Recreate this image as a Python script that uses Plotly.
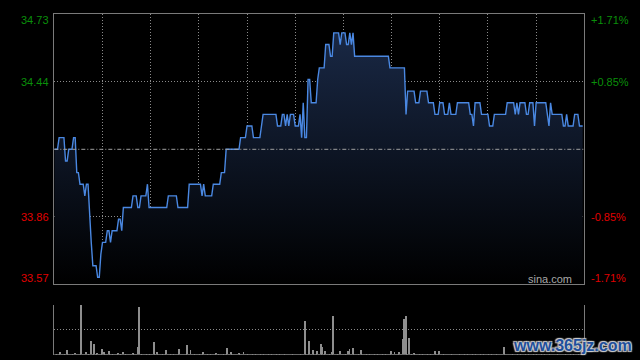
import numpy as np
import plotly.graph_objects as go

# ---------------- data ----------------
prev_close = 34.15
y_min, y_max = 33.57, 34.73
n_minutes = 330  # HK session 9:30-12:00, 13:00-16:00

# per-minute price, run-length encoded (price, number of minutes)
run_prices = [
    34.15, 34.20, 34.10, 34.15, 34.20, 34.05, 34.00, 33.95, 34.00, 33.85,
    33.75, 33.65, 33.60, 33.70, 33.75, 33.80, 33.75, 33.80, 33.85, 33.80,
    33.90, 33.95, 33.90, 33.95, 34.00, 33.90, 33.95, 33.90, 34.00, 33.95,
    34.00, 33.95, 34.00, 34.05, 34.15, 34.20, 34.25, 34.20, 34.25, 34.30,
    34.25, 34.30, 34.25, 34.30, 34.25, 34.30, 34.25, 34.30, 34.20, 34.35,
    34.20, 34.45, 34.35, 34.45, 34.50, 34.60, 34.55, 34.65, 34.60, 34.65,
    34.60, 34.65, 34.60, 34.65, 34.55, 34.50, 34.30, 34.40, 34.35, 34.40,
    34.35, 34.30, 34.35, 34.30, 34.35, 34.30, 34.35, 34.30, 34.25, 34.35,
    34.30, 34.25, 34.30, 34.35, 34.30, 34.35, 34.30, 34.35, 34.30, 34.35,
    34.25, 34.35, 34.30, 34.25, 34.35, 34.30, 34.25, 34.30, 34.25, 34.30,
    34.25,
]
run_lengths = [
    3, 4, 2, 3, 2, 2, 3, 1, 2, 1,
    1, 3, 2, 1, 3, 2, 1, 4, 2, 1,
    6, 3, 2, 4, 1, 12, 6, 7, 8, 1,
    1, 5, 5, 3, 9, 4, 4, 5, 1, 9,
    3, 2, 1, 1, 1, 3, 3, 1, 1, 1,
    2, 2, 4, 1, 4, 3, 2, 4, 1, 3,
    2, 1, 1, 1, 22, 10, 1, 5, 3, 5,
    4, 3, 3, 3, 1, 4, 8, 2, 1, 4,
    5, 3, 8, 5, 1, 1, 1, 4, 2, 3,
    1, 7, 1, 1, 1, 7, 2, 1, 4, 3,
    3,
]

# volume (arbitrary units, 50 = tallest bar); unlisted minutes are tiny
vol_minutes = [4, 8, 13, 17, 20, 23, 25, 27, 30, 31, 34, 40, 43, 49, 52, 53,
               62, 64, 70, 78, 83, 85, 93, 101, 108, 110, 115, 118, 156, 159,
               161, 164, 166, 167, 169, 173, 174, 178, 183, 184, 186, 191, 210,
               212, 215, 217, 218, 219, 221, 224, 237, 240, 280]
vol_values = [3, 5, 2, 50, 3, 14, 11, 2, 6, 3, 4, 2, 3, 2, 8, 48,
              13, 3, 5, 6, 10, 5, 3, 2, 7, 3, 2, 3, 34, 14,
              5, 4, 11, 8, 4, 3, 39, 4, 4, 6, 7, 5, 4,
              3, 3, 16, 36, 39, 17, 2, 4, 4, 8]
vol_small = 0.8
vol_max = 50

tick_prices = [34.73, 34.44, 33.86, 33.57]
tick_pcts = ["+1.71%", "+0.85%", "-0.85%", "-1.71%"]
grid_prices = [34.44, 33.86]
grid_minutes = [30, 60, 90, 120, 150, 180, 210, 240, 270, 300]

# ---------------- build ----------------
price = np.repeat(run_prices, run_lengths)
minutes = np.arange(len(price))

vol = np.full(n_minutes, vol_small)
vol[vol_minutes] = vol_values
vol_x = np.arange(n_minutes)

GREEN = "#0a8f0a"
RED = "#e00000"
FRAME = "#7a7a7a"
GRID = "#8a8a8a"
FONT = "Arial, Liberation Sans, sans-serif"

xd = [54.3 / 640, 584.3 / 640]
main_dom = [(360 - 284.3) / 360, (360 - 14.3) / 360]
vol_dom = [(360 - 354.7) / 360, (360 - 304.7) / 360]

fig = go.Figure()
fig.add_trace(go.Scatter(
    x=minutes, y=price, mode="lines",
    line=dict(color="#4a88e2", width=1.4),
    fill="tozeroy",
    fillgradient=dict(type="vertical",
                      colorscale=[[0, "#000000"], [1, "#1b2b4a"]],
                      start=y_min, stop=y_max),
    xaxis="x", yaxis="y", hoverinfo="skip",
))
fig.add_trace(go.Bar(
    x=vol_x, y=vol, width=0.6,
    marker=dict(color="#8e8e8e", line=dict(width=0)),
    xaxis="x2", yaxis="y2", hoverinfo="skip",
))

fig.add_hline(y=prev_close, line=dict(color="#a0a0a0", width=1, dash="4px,2px,1px,2px"),
              xref="x", yref="y", layer="above")

annotations = []
for i, (p, pc) in enumerate(zip(tick_prices, tick_pcts)):
    col = GREEN if p > prev_close else RED
    ys = -6 if i == 0 else (6 if i == len(tick_prices) - 1 else 0)
    annotations.append(dict(x=xd[0], xref="paper", y=p, yref="y", text=f"{p:.2f}",
                            xanchor="right", yanchor="middle", xshift=-3, yshift=ys,
                            showarrow=False, font=dict(family=FONT, size=11, color=col)))
    annotations.append(dict(x=xd[1], xref="paper", y=p, yref="y", text=pc,
                            xanchor="left", yanchor="middle", xshift=5, yshift=ys,
                            showarrow=False, font=dict(family=FONT, size=11, color=col)))
annotations.append(dict(x=xd[1], xref="paper", y=(360 - 279) / 360, yref="paper",
                        text="sina.com", xanchor="right", yanchor="middle", xshift=-10,
                        showarrow=False, font=dict(family=FONT, size=11, color="#a8a8a8")))
annotations.append(dict(x=1.0, xref="paper", y=(360 - 345) / 360, yref="paper",
                        text="www.365jz.com", xanchor="right", yanchor="middle", xshift=-6,
                        showarrow=False,
                        font=dict(family=FONT, size=16, color="#1e4f9c", weight="bold",
                                  shadow="1px 1px 1px #cfcfcf, -1px -1px 1px #cfcfcf, 1px -1px 1px #cfcfcf, -1px 1px 1px #cfcfcf")))

fig.update_layout(
    width=640, height=360,
    margin=dict(l=0, r=0, t=0, b=0),
    paper_bgcolor="#000000", plot_bgcolor="#000000",
    showlegend=False,
    bargap=0,
    xaxis=dict(domain=xd, range=[0, n_minutes], anchor="y",
               tickvals=grid_minutes, showticklabels=False, ticks="",
               showgrid=True, gridcolor=GRID, gridwidth=1, griddash="1px,2px",
               showline=True, mirror=True, linecolor=FRAME, linewidth=1, zeroline=False),
    yaxis=dict(domain=main_dom, range=[y_min, y_max], anchor="x",
               tickvals=grid_prices, showticklabels=False, ticks="",
               showgrid=True, gridcolor=GRID, gridwidth=1, griddash="1px,2px",
               showline=True, mirror=True, linecolor=FRAME, linewidth=1, zeroline=False),
    xaxis2=dict(domain=xd, range=[0, n_minutes], anchor="y2",
                showticklabels=False, ticks="", showgrid=False,
                showline=False, zeroline=False),
    yaxis2=dict(domain=vol_dom, range=[0, vol_max], anchor="x2",
                tickvals=[0, vol_max / 2, vol_max], showticklabels=False, ticks="",
                showgrid=True, gridcolor=GRID, gridwidth=1, griddash="1px,2px",
                showline=True, mirror=True, linecolor=FRAME, linewidth=1, zeroline=False),
    annotations=annotations,
)

fig.write_html("out.html", config={"displayModeBar": False},
               post_script="document.body.style.margin='0';document.body.style.background='#000';")
